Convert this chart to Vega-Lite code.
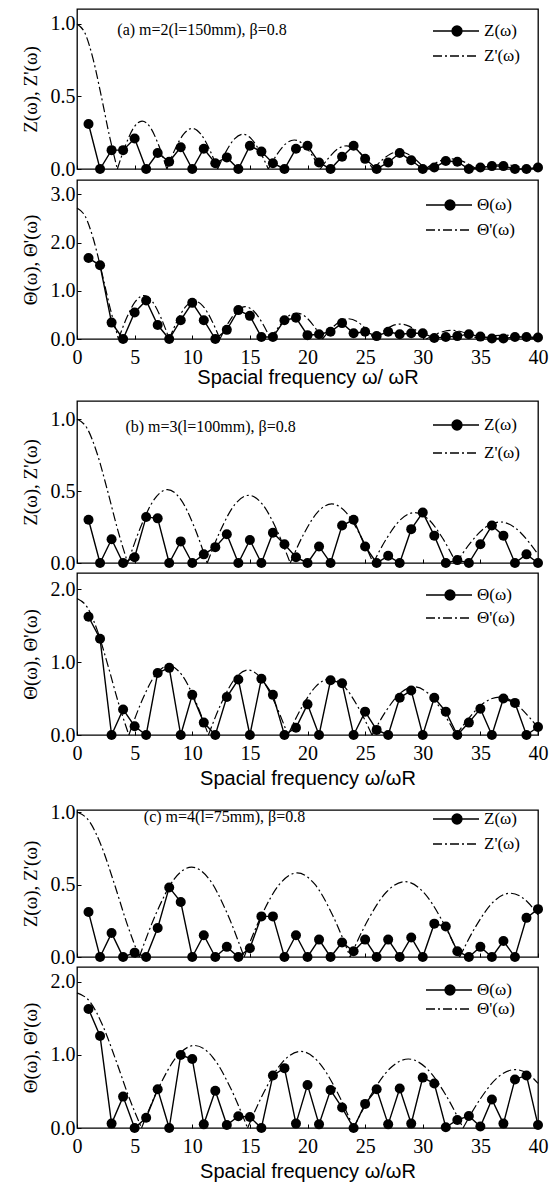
{
"$schema": "https://vega.github.io/schema/vega-lite/v6.json",
"padding": {"left": 20, "top": 8, "right": 5, "bottom": 0},
"background": "white",
"config": {
 "view": {"stroke": "black", "strokeWidth": 1.3},
 "axis": {"domain": false, "grid": false, "tickColor": "black", "tickSize": -4, "tickWidth": 1, "labelColor": "black", "labelFont": "Liberation Serif", "labelFontSize": 20, "labelFlush": false, "titleColor": "black", "titleFontWeight": "normal"},
 "axisX": {"labelPadding": 12, "titleFont": "Liberation Sans", "titleFontSize": 20, "titlePadding": 5},
 "axisY": {"labelPadding": 6, "titleFont": "Liberation Serif", "titleFontSize": 19, "titlePadding": 10},
 "legend": {"labelFont": "Liberation Serif", "labelFontSize": 17, "labelColor": "black", "symbolSize": 256, "symbolStrokeWidth": 1.3, "symbolStrokeColor": "black", "labelOffset": 34}
},
"datasets": {
 "aZm": [{"x":1,"y":0.31},{"x":2,"y":0},{"x":3,"y":0.13},{"x":4,"y":0.13},{"x":5,"y":0.21},{"x":6,"y":0},{"x":7,"y":0.11},{"x":8,"y":0.05},{"x":9,"y":0.15},{"x":10,"y":0},{"x":11,"y":0.14},{"x":12,"y":0.04},{"x":13,"y":0.08},{"x":14,"y":0},{"x":15,"y":0.16},{"x":16,"y":0.12},{"x":17,"y":0.04},{"x":18,"y":0},{"x":19,"y":0.14},{"x":20,"y":0.16},{"x":21,"y":0.045},{"x":22,"y":0},{"x":23,"y":0.085},{"x":24,"y":0.16},{"x":25,"y":0.07},{"x":26,"y":0},{"x":27,"y":0.045},{"x":28,"y":0.11},{"x":29,"y":0.06},{"x":30,"y":0},{"x":31,"y":0.01},{"x":32,"y":0.055},{"x":33,"y":0.05},{"x":34,"y":0},{"x":35,"y":0.01},{"x":36,"y":0.02},{"x":37,"y":0.02},{"x":38,"y":0},{"x":39,"y":0},{"x":40,"y":0.01}],
 "aZc": [{"x":0,"y":1,"g":0},{"x":0.7,"y":0.935,"g":0},{"x":1.4,"y":0.757,"g":0},{"x":2.1,"y":0.505,"g":0},{"x":2.8,"y":0.234,"g":0},{"x":3.5,"y":0,"g":0},
  {"x":3.5,"y":0,"g":1},{"x":4.22,"y":0.165,"g":1},{"x":4.93,"y":0.286,"g":1},{"x":5.65,"y":0.33,"g":1},{"x":6.37,"y":0.286,"g":1},{"x":7.08,"y":0.165,"g":1},{"x":7.8,"y":0,"g":1},
  {"x":7.8,"y":0,"g":2},{"x":8.53,"y":0.14,"g":2},{"x":9.27,"y":0.242,"g":2},{"x":10,"y":0.28,"g":2},{"x":10.73,"y":0.242,"g":2},{"x":11.47,"y":0.14,"g":2},{"x":12.2,"y":0,"g":2},
  {"x":12.2,"y":0,"g":3},{"x":12.93,"y":0.12,"g":3},{"x":13.67,"y":0.208,"g":3},{"x":14.4,"y":0.24,"g":3},{"x":15.13,"y":0.208,"g":3},{"x":15.87,"y":0.12,"g":3},{"x":16.6,"y":0,"g":3},
  {"x":16.6,"y":0,"g":4},{"x":17.35,"y":0.1,"g":4},{"x":18.1,"y":0.173,"g":4},{"x":18.85,"y":0.2,"g":4},{"x":19.6,"y":0.173,"g":4},{"x":20.35,"y":0.1,"g":4},{"x":21.1,"y":0,"g":4},
  {"x":21.1,"y":0,"g":5},{"x":21.87,"y":0.08,"g":5},{"x":22.63,"y":0.139,"g":5},{"x":23.4,"y":0.16,"g":5},{"x":24.17,"y":0.139,"g":5},{"x":24.93,"y":0.08,"g":5},{"x":25.7,"y":0,"g":5},
  {"x":25.7,"y":0,"g":6},{"x":26.45,"y":0.06,"g":6},{"x":27.2,"y":0.104,"g":6},{"x":27.95,"y":0.12,"g":6},{"x":28.7,"y":0.104,"g":6},{"x":29.45,"y":0.06,"g":6},{"x":30.2,"y":0,"g":6},
  {"x":30.2,"y":0,"g":7},{"x":30.95,"y":0.035,"g":7},{"x":31.7,"y":0.061,"g":7},{"x":32.45,"y":0.07,"g":7},{"x":33.2,"y":0.061,"g":7},{"x":33.95,"y":0.035,"g":7},{"x":34.7,"y":0,"g":7},
  {"x":34.7,"y":0,"g":8},{"x":35.45,"y":0.015,"g":8},{"x":36.2,"y":0.026,"g":8},{"x":36.95,"y":0.03,"g":8},{"x":37.7,"y":0.026,"g":8},{"x":38.45,"y":0.015,"g":8},{"x":39.2,"y":0,"g":8},
  {"x":39.2,"y":0,"g":9},{"x":40,"y":0.01,"g":9}],
 "aTm": [{"x":1,"y":1.68},{"x":2,"y":1.53},{"x":3,"y":0.34},{"x":4,"y":0},{"x":5,"y":0.55},{"x":6,"y":0.8},{"x":7,"y":0.29},{"x":8,"y":0},{"x":9,"y":0.39},{"x":10,"y":0.75},{"x":11,"y":0.39},{"x":12,"y":0},{"x":13,"y":0.19},{"x":14,"y":0.6},{"x":15,"y":0.48},{"x":16,"y":0.04},{"x":17,"y":0.04},{"x":18,"y":0.39},{"x":19,"y":0.44},{"x":20,"y":0.08},{"x":21,"y":0.1},{"x":22,"y":0.15},{"x":23,"y":0.33},{"x":24,"y":0.12},{"x":25,"y":0.15},{"x":26,"y":0.06},{"x":27,"y":0.15},{"x":28,"y":0.1},{"x":29,"y":0.12},{"x":30,"y":0.12},{"x":31,"y":0.02},{"x":32,"y":0.04},{"x":33,"y":0.06},{"x":34,"y":0.1},{"x":35,"y":0.05},{"x":36,"y":0.01},{"x":37,"y":0.01},{"x":38,"y":0.04},{"x":39,"y":0.04},{"x":40,"y":0.03}],
 "aTc": [{"x":0,"y":2.72,"g":0},{"x":0.72,"y":2.543,"g":0},{"x":1.44,"y":2.059,"g":0},{"x":2.16,"y":1.374,"g":0},{"x":2.88,"y":0.636,"g":0},{"x":3.6,"y":0,"g":0},
  {"x":3.6,"y":0,"g":1},{"x":4.33,"y":0.45,"g":1},{"x":5.07,"y":0.779,"g":1},{"x":5.8,"y":0.9,"g":1},{"x":6.53,"y":0.779,"g":1},{"x":7.27,"y":0.45,"g":1},{"x":8,"y":0,"g":1},
  {"x":8,"y":0,"g":2},{"x":8.73,"y":0.395,"g":2},{"x":9.47,"y":0.684,"g":2},{"x":10.2,"y":0.79,"g":2},{"x":10.93,"y":0.684,"g":2},{"x":11.67,"y":0.395,"g":2},{"x":12.4,"y":0,"g":2},
  {"x":12.4,"y":0,"g":3},{"x":13.13,"y":0.335,"g":3},{"x":13.87,"y":0.58,"g":3},{"x":14.6,"y":0.67,"g":3},{"x":15.33,"y":0.58,"g":3},{"x":16.07,"y":0.335,"g":3},{"x":16.8,"y":0,"g":3},
  {"x":16.8,"y":0,"g":4},{"x":17.55,"y":0.27,"g":4},{"x":18.3,"y":0.468,"g":4},{"x":19.05,"y":0.54,"g":4},{"x":19.8,"y":0.468,"g":4},{"x":20.55,"y":0.27,"g":4},{"x":21.3,"y":0,"g":4},
  {"x":21.3,"y":0,"g":5},{"x":22.05,"y":0.21,"g":5},{"x":22.8,"y":0.364,"g":5},{"x":23.55,"y":0.42,"g":5},{"x":24.3,"y":0.364,"g":5},{"x":25.05,"y":0.21,"g":5},{"x":25.8,"y":0,"g":5},
  {"x":25.8,"y":0,"g":6},{"x":26.55,"y":0.155,"g":6},{"x":27.3,"y":0.268,"g":6},{"x":28.05,"y":0.31,"g":6},{"x":28.8,"y":0.268,"g":6},{"x":29.55,"y":0.155,"g":6},{"x":30.3,"y":0,"g":6},
  {"x":30.3,"y":0,"g":7},{"x":31.05,"y":0.09,"g":7},{"x":31.8,"y":0.156,"g":7},{"x":32.55,"y":0.18,"g":7},{"x":33.3,"y":0.156,"g":7},{"x":34.05,"y":0.09,"g":7},{"x":34.8,"y":0,"g":7},
  {"x":34.8,"y":0,"g":8},{"x":35.55,"y":0.04,"g":8},{"x":36.3,"y":0.069,"g":8},{"x":37.05,"y":0.08,"g":8},{"x":37.8,"y":0.069,"g":8},{"x":38.55,"y":0.04,"g":8},{"x":39.3,"y":0,"g":8},
  {"x":39.3,"y":0,"g":9},{"x":40,"y":0.03,"g":9}],
 "bZm": [{"x":1,"y":0.3},{"x":2,"y":0},{"x":3,"y":0.165},{"x":4,"y":0},{"x":5,"y":0.04},{"x":6,"y":0.32},{"x":7,"y":0.31},{"x":8,"y":0},{"x":9,"y":0.15},{"x":10,"y":0},{"x":11,"y":0.06},{"x":12,"y":0.11},{"x":13,"y":0.2},{"x":14,"y":0},{"x":15,"y":0.16},{"x":16,"y":0},{"x":17,"y":0.21},{"x":18,"y":0.13},{"x":19,"y":0.04},{"x":20,"y":0},{"x":21,"y":0.115},{"x":22,"y":0},{"x":23,"y":0.26},{"x":24,"y":0.3},{"x":25,"y":0.115},{"x":26,"y":0},{"x":27,"y":0.05},{"x":28,"y":0},{"x":29,"y":0.235},{"x":30,"y":0.35},{"x":31,"y":0.19},{"x":32,"y":0},{"x":33,"y":0.02},{"x":34,"y":0},{"x":35,"y":0.13},{"x":36,"y":0.26},{"x":37,"y":0.19},{"x":38,"y":0},{"x":39,"y":0.06},{"x":40,"y":0}],
 "bZc": [{"x":0,"y":1,"g":0},{"x":0.88,"y":0.935,"g":0},{"x":1.76,"y":0.757,"g":0},{"x":2.64,"y":0.505,"g":0},{"x":3.52,"y":0.234,"g":0},{"x":4.4,"y":0,"g":0},
  {"x":4.4,"y":0,"g":1},{"x":5.55,"y":0.255,"g":1},{"x":6.7,"y":0.442,"g":1},{"x":7.85,"y":0.51,"g":1},{"x":9,"y":0.442,"g":1},{"x":10.15,"y":0.255,"g":1},{"x":11.3,"y":0,"g":1},
  {"x":11.3,"y":0,"g":2},{"x":12.5,"y":0.235,"g":2},{"x":13.7,"y":0.407,"g":2},{"x":14.9,"y":0.47,"g":2},{"x":16.1,"y":0.407,"g":2},{"x":17.3,"y":0.235,"g":2},{"x":18.5,"y":0,"g":2},
  {"x":18.5,"y":0,"g":3},{"x":19.7,"y":0.205,"g":3},{"x":20.9,"y":0.355,"g":3},{"x":22.1,"y":0.41,"g":3},{"x":23.3,"y":0.355,"g":3},{"x":24.5,"y":0.205,"g":3},{"x":25.7,"y":0,"g":3},
  {"x":25.7,"y":0,"g":4},{"x":26.9,"y":0.175,"g":4},{"x":28.1,"y":0.303,"g":4},{"x":29.3,"y":0.35,"g":4},{"x":30.5,"y":0.303,"g":4},{"x":31.7,"y":0.175,"g":4},{"x":32.9,"y":0,"g":4},
  {"x":32.9,"y":0,"g":5},{"x":34.17,"y":0.143,"g":5},{"x":35.43,"y":0.247,"g":5},{"x":36.7,"y":0.285,"g":5},{"x":37.97,"y":0.247,"g":5},{"x":39.23,"y":0.143,"g":5},{"x":40,"y":0.06,"g":5}],
 "bTm": [{"x":1,"y":1.62},{"x":2,"y":1.32},{"x":3,"y":0},{"x":4,"y":0.35},{"x":5,"y":0.12},{"x":6,"y":0},{"x":7,"y":0.85},{"x":8,"y":0.92},{"x":9,"y":0},{"x":10,"y":0.55},{"x":11,"y":0.17},{"x":12,"y":0},{"x":13,"y":0.52},{"x":14,"y":0.76},{"x":15,"y":0},{"x":16,"y":0.77},{"x":17,"y":0.55},{"x":18,"y":0},{"x":19,"y":0.1},{"x":20,"y":0.42},{"x":21,"y":0},{"x":22,"y":0.75},{"x":23,"y":0.71},{"x":24,"y":0},{"x":25,"y":0.32},{"x":26,"y":0.07},{"x":27,"y":0},{"x":28,"y":0.51},{"x":29,"y":0.61},{"x":30,"y":0},{"x":31,"y":0.51},{"x":32,"y":0.32},{"x":33,"y":0},{"x":34,"y":0.17},{"x":35,"y":0.36},{"x":36,"y":0},{"x":37,"y":0.5},{"x":38,"y":0.44},{"x":39,"y":0},{"x":40,"y":0.11}],
 "bTc": [{"x":0,"y":1.87,"g":0},{"x":0.9,"y":1.748,"g":0},{"x":1.8,"y":1.416,"g":0},{"x":2.7,"y":0.944,"g":0},{"x":3.6,"y":0.438,"g":0},{"x":4.5,"y":0,"g":0},
  {"x":4.5,"y":0,"g":1},{"x":5.65,"y":0.475,"g":1},{"x":6.8,"y":0.823,"g":1},{"x":7.95,"y":0.95,"g":1},{"x":9.1,"y":0.823,"g":1},{"x":10.25,"y":0.475,"g":1},{"x":11.4,"y":0,"g":1},
  {"x":11.4,"y":0,"g":2},{"x":12.55,"y":0.445,"g":2},{"x":13.7,"y":0.771,"g":2},{"x":14.85,"y":0.89,"g":2},{"x":16,"y":0.771,"g":2},{"x":17.15,"y":0.445,"g":2},{"x":18.3,"y":0,"g":2},
  {"x":18.3,"y":0,"g":3},{"x":19.52,"y":0.385,"g":3},{"x":20.73,"y":0.667,"g":3},{"x":21.95,"y":0.77,"g":3},{"x":23.17,"y":0.667,"g":3},{"x":24.38,"y":0.385,"g":3},{"x":25.6,"y":0,"g":3},
  {"x":25.6,"y":0,"g":4},{"x":26.82,"y":0.33,"g":4},{"x":28.03,"y":0.572,"g":4},{"x":29.25,"y":0.66,"g":4},{"x":30.47,"y":0.572,"g":4},{"x":31.68,"y":0.33,"g":4},{"x":32.9,"y":0,"g":4},
  {"x":32.9,"y":0,"g":5},{"x":34.15,"y":0.26,"g":5},{"x":35.4,"y":0.45,"g":5},{"x":36.65,"y":0.52,"g":5},{"x":37.9,"y":0.45,"g":5},{"x":39.15,"y":0.26,"g":5},{"x":40,"y":0.1,"g":5}],
 "cZm": [{"x":1,"y":0.31},{"x":2,"y":0},{"x":3,"y":0.165},{"x":4,"y":0},{"x":5,"y":0.03},{"x":6,"y":0},{"x":7,"y":0.2},{"x":8,"y":0.48},{"x":9,"y":0.38},{"x":10,"y":0},{"x":11,"y":0.15},{"x":12,"y":0},{"x":13,"y":0.07},{"x":14,"y":0},{"x":15,"y":0.06},{"x":16,"y":0.28},{"x":17,"y":0.28},{"x":18,"y":0},{"x":19,"y":0.15},{"x":20,"y":0},{"x":21,"y":0.12},{"x":22,"y":0},{"x":23,"y":0.1},{"x":24,"y":0.04},{"x":25,"y":0.12},{"x":26,"y":0},{"x":27,"y":0.12},{"x":28,"y":0},{"x":29,"y":0.135},{"x":30,"y":0},{"x":31,"y":0.23},{"x":32,"y":0.21},{"x":33,"y":0.04},{"x":34,"y":0},{"x":35,"y":0.07},{"x":36,"y":0},{"x":37,"y":0.11},{"x":38,"y":0},{"x":39,"y":0.27},{"x":40,"y":0.33}],
 "cZc": [{"x":0,"y":1,"g":0},{"x":1.08,"y":0.935,"g":0},{"x":2.16,"y":0.757,"g":0},{"x":3.24,"y":0.505,"g":0},{"x":4.32,"y":0.234,"g":0},{"x":5.4,"y":0,"g":0},
  {"x":5.4,"y":0,"g":1},{"x":6.92,"y":0.31,"g":1},{"x":8.43,"y":0.537,"g":1},{"x":9.95,"y":0.62,"g":1},{"x":11.47,"y":0.537,"g":1},{"x":12.98,"y":0.31,"g":1},{"x":14.5,"y":0,"g":1},
  {"x":14.5,"y":0,"g":2},{"x":16.03,"y":0.29,"g":2},{"x":17.57,"y":0.502,"g":2},{"x":19.1,"y":0.58,"g":2},{"x":20.63,"y":0.502,"g":2},{"x":22.17,"y":0.29,"g":2},{"x":23.7,"y":0,"g":2},
  {"x":23.7,"y":0,"g":3},{"x":25.28,"y":0.26,"g":3},{"x":26.87,"y":0.45,"g":3},{"x":28.45,"y":0.52,"g":3},{"x":30.03,"y":0.45,"g":3},{"x":31.62,"y":0.26,"g":3},{"x":33.2,"y":0,"g":3},
  {"x":33.2,"y":0,"g":4},{"x":34.67,"y":0.22,"g":4},{"x":36.13,"y":0.381,"g":4},{"x":37.6,"y":0.44,"g":4},{"x":39.07,"y":0.381,"g":4},{"x":40,"y":0.29,"g":4}],
 "cTm": [{"x":1,"y":1.63},{"x":2,"y":1.26},{"x":3,"y":0.06},{"x":4,"y":0.43},{"x":5,"y":0},{"x":6,"y":0.14},{"x":7,"y":0.53},{"x":8,"y":0},{"x":9,"y":1.0},{"x":10,"y":0.945},{"x":11,"y":0.05},{"x":12,"y":0.51},{"x":13,"y":0.04},{"x":14,"y":0.16},{"x":15,"y":0.15},{"x":16,"y":0},{"x":17,"y":0.72},{"x":18,"y":0.82},{"x":19,"y":0.06},{"x":20,"y":0.59},{"x":21,"y":0.05},{"x":22,"y":0.52},{"x":23,"y":0.28},{"x":24,"y":0},{"x":25,"y":0.33},{"x":26,"y":0.53},{"x":27,"y":0.05},{"x":28,"y":0.54},{"x":29,"y":0.06},{"x":30,"y":0.69},{"x":31,"y":0.61},{"x":32,"y":0.01},{"x":33,"y":0.11},{"x":34,"y":0.165},{"x":35,"y":0.02},{"x":36,"y":0.39},{"x":37,"y":0.06},{"x":38,"y":0.665},{"x":39,"y":0.72},{"x":40,"y":0.04}],
 "cTc": [{"x":0,"y":1.85,"g":0},{"x":1.12,"y":1.73,"g":0},{"x":2.24,"y":1.4,"g":0},{"x":3.36,"y":0.934,"g":0},{"x":4.48,"y":0.433,"g":0},{"x":5.6,"y":0,"g":0},
  {"x":5.6,"y":0,"g":1},{"x":7.13,"y":0.565,"g":1},{"x":8.67,"y":0.979,"g":1},{"x":10.2,"y":1.13,"g":1},{"x":11.73,"y":0.979,"g":1},{"x":13.27,"y":0.565,"g":1},{"x":14.8,"y":0,"g":1},
  {"x":14.8,"y":0,"g":2},{"x":16.33,"y":0.525,"g":2},{"x":17.87,"y":0.909,"g":2},{"x":19.4,"y":1.05,"g":2},{"x":20.93,"y":0.909,"g":2},{"x":22.47,"y":0.525,"g":2},{"x":24,"y":0,"g":2},
  {"x":24,"y":0,"g":3},{"x":25.58,"y":0.473,"g":3},{"x":27.17,"y":0.818,"g":3},{"x":28.75,"y":0.945,"g":3},{"x":30.33,"y":0.818,"g":3},{"x":31.92,"y":0.473,"g":3},{"x":33.5,"y":0,"g":3},
  {"x":33.5,"y":0,"g":4},{"x":35,"y":0.4,"g":4},{"x":36.5,"y":0.693,"g":4},{"x":38,"y":0.8,"g":4},{"x":39.5,"y":0.693,"g":4},{"x":40,"y":0.61,"g":4}]
},
"resolve": {"scale": {"x": "independent", "y": "independent", "fill": "independent", "strokeDash": "independent"}, "legend": {"fill": "independent", "strokeDash": "independent"}},
"spacing": 12,
"vconcat": [
 {"vconcat": [
  {"width": 461, "height": 160,
   "encoding": {"x": {"field": "x", "type": "quantitative", "scale": {"domain": [0, 40], "nice": false, "zero": false}, "axis": {"values": [0,5,10,15,20,25,30,35,40], "labels": false, "title": null}},
                "y": {"field": "y", "type": "quantitative", "scale": {"domain": [0, 1.103], "nice": false}, "axis": {"values": [0, 0.5, 1], "format": ".1f", "title": "Z(ω),  Z'(ω)"}}},
   "layer": [
    {"data": {"name": "aZm"}, "mark": {"type": "line", "color": "black", "strokeWidth": 1.4}},
    {"data": {"name": "aZm"}, "mark": {"type": "point", "filled": true, "color": "black", "size": 100, "opacity": 1},
     "encoding": {"fill": {"datum": "Z(ω)", "scale": {"range": ["black"]}, "legend": {"title": null, "orient": "none", "legendX": 355, "legendY": 13, "symbolType": "M-1,0H1.375M2.625,0H4.75M1.375,0A0.625,0.625,0,1,1,2.625,0A0.625,0.625,0,1,1,1.375,0"}}}},
    {"data": {"name": "aZc"}, "mark": {"type": "line", "color": "black", "strokeWidth": 1.2, "interpolate": "monotone"},
     "encoding": {"detail": {"field": "g"}, "strokeDash": {"datum": "Z'(ω)", "scale": {"range": [[9, 3, 2, 3]]}, "legend": {"title": null, "orient": "none", "legendX": 355, "legendY": 38, "symbolType": "M-1,0H4.75"}}}},
    {"data": {"values": [{"x": 3.5, "y": 0.955, "t": "(a) m=2(l=150mm), β=0.8"}]}, "mark": {"type": "text", "align": "left", "baseline": "middle", "font": "Liberation Serif", "fontSize": 16, "color": "black"},
     "encoding": {"text": {"field": "t"}}}
   ]},
  {"width": 461, "height": 159,
   "encoding": {"x": {"field": "x", "type": "quantitative", "scale": {"domain": [0, 40], "nice": false, "zero": false}, "axis": {"values": [0,5,10,15,20,25,30,35,40], "title": "Spacial frequency  ω/ ωR", "titlePadding": 0}},
                "y": {"field": "y", "type": "quantitative", "scale": {"domain": [0, 3.3], "nice": false}, "axis": {"values": [0, 1, 2, 3], "format": ".1f", "title": "Θ(ω),  Θ'(ω)"}}},
   "layer": [
    {"data": {"name": "aTm"}, "mark": {"type": "line", "color": "black", "strokeWidth": 1.4}},
    {"data": {"name": "aTm"}, "mark": {"type": "point", "filled": true, "color": "black", "size": 100, "opacity": 1},
     "encoding": {"fill": {"datum": "Θ(ω)", "scale": {"range": ["black"]}, "legend": {"title": null, "orient": "none", "legendX": 348, "legendY": 16, "symbolType": "M-1,0H1.375M2.625,0H4.75M1.375,0A0.625,0.625,0,1,1,2.625,0A0.625,0.625,0,1,1,1.375,0"}}}},
    {"data": {"name": "aTc"}, "mark": {"type": "line", "color": "black", "strokeWidth": 1.2, "interpolate": "monotone"},
     "encoding": {"detail": {"field": "g"}, "strokeDash": {"datum": "Θ'(ω)", "scale": {"range": [[9, 3, 2, 3]]}, "legend": {"title": null, "orient": "none", "legendX": 348, "legendY": 41, "symbolType": "M-1,0H4.75"}}}}
   ]}
 ], "spacing": 11, "bounds": "flush",
 "resolve": {"scale": {"x": "independent", "y": "independent", "fill": "independent", "strokeDash": "independent"}, "legend": {"fill": "independent", "strokeDash": "independent"}}},
 {"vconcat": [
 {"vconcat": [
  {"width": 461, "height": 162,
   "encoding": {"x": {"field": "x", "type": "quantitative", "scale": {"domain": [0, 40], "nice": false, "zero": false}, "axis": {"values": [0,5,10,15,20,25,30,35,40], "labels": false, "title": null}},
                "y": {"field": "y", "type": "quantitative", "scale": {"domain": [0, 1.125], "nice": false}, "axis": {"values": [0, 0.5, 1], "format": ".1f", "title": "Z(ω),  Z'(ω)"}}},
   "layer": [
    {"data": {"name": "bZm"}, "mark": {"type": "line", "color": "black", "strokeWidth": 1.4}},
    {"data": {"name": "bZm"}, "mark": {"type": "point", "filled": true, "color": "black", "size": 100, "opacity": 1},
     "encoding": {"fill": {"datum": "Z(ω)", "scale": {"range": ["black"]}, "legend": {"title": null, "orient": "none", "legendX": 355, "legendY": 15, "symbolType": "M-1,0H1.375M2.625,0H4.75M1.375,0A0.625,0.625,0,1,1,2.625,0A0.625,0.625,0,1,1,1.375,0"}}}},
    {"data": {"name": "bZc"}, "mark": {"type": "line", "color": "black", "strokeWidth": 1.2, "interpolate": "monotone"},
     "encoding": {"detail": {"field": "g"}, "strokeDash": {"datum": "Z'(ω)", "scale": {"range": [[9, 3, 2, 3]]}, "legend": {"title": null, "orient": "none", "legendX": 355, "legendY": 43, "symbolType": "M-1,0H4.75"}}}},
    {"data": {"values": [{"x": 4.2, "y": 0.944, "t": "(b) m=3(l=100mm), β=0.8"}]}, "mark": {"type": "text", "align": "left", "baseline": "middle", "font": "Liberation Serif", "fontSize": 16, "color": "black"},
     "encoding": {"text": {"field": "t"}}}
   ]},
  {"width": 461, "height": 162,
   "encoding": {"x": {"field": "x", "type": "quantitative", "scale": {"domain": [0, 40], "nice": false, "zero": false}, "axis": {"values": [0,5,10,15,20,25,30,35,40], "title": "Spacial frequency  ω/ωR"}},
                "y": {"field": "y", "type": "quantitative", "scale": {"domain": [0, 2.22], "nice": false}, "axis": {"values": [0, 1, 2], "format": ".1f", "title": "Θ(ω),  Θ'(ω)"}}},
   "layer": [
    {"data": {"name": "bTm"}, "mark": {"type": "line", "color": "black", "strokeWidth": 1.4}},
    {"data": {"name": "bTm"}, "mark": {"type": "point", "filled": true, "color": "black", "size": 100, "opacity": 1},
     "encoding": {"fill": {"datum": "Θ(ω)", "scale": {"range": ["black"]}, "legend": {"title": null, "orient": "none", "legendX": 348, "legendY": 13, "symbolType": "M-1,0H1.375M2.625,0H4.75M1.375,0A0.625,0.625,0,1,1,2.625,0A0.625,0.625,0,1,1,1.375,0"}}}},
    {"data": {"name": "bTc"}, "mark": {"type": "line", "color": "black", "strokeWidth": 1.2, "interpolate": "monotone"},
     "encoding": {"detail": {"field": "g"}, "strokeDash": {"datum": "Θ'(ω)", "scale": {"range": [[9, 3, 2, 3]]}, "legend": {"title": null, "orient": "none", "legendX": 348, "legendY": 36, "symbolType": "M-1,0H4.75"}}}}
   ]}
 ], "spacing": 10, "bounds": "flush",
 "resolve": {"scale": {"x": "independent", "y": "independent", "fill": "independent", "strokeDash": "independent"}, "legend": {"fill": "independent", "strokeDash": "independent"}}},
 {"vconcat": [
  {"width": 461, "height": 147,
   "encoding": {"x": {"field": "x", "type": "quantitative", "scale": {"domain": [0, 40], "nice": false, "zero": false}, "axis": {"values": [0,5,10,15,20,25,30,35,40], "labels": false, "title": null}},
                "y": {"field": "y", "type": "quantitative", "scale": {"domain": [0, 1.014], "nice": false}, "axis": {"values": [0, 0.5, 1], "format": ".1f", "title": "Z(ω),  Z'(ω)"}}},
   "layer": [
    {"data": {"name": "cZm"}, "mark": {"type": "line", "color": "black", "strokeWidth": 1.4}},
    {"data": {"name": "cZm"}, "mark": {"type": "point", "filled": true, "color": "black", "size": 100, "opacity": 1},
     "encoding": {"fill": {"datum": "Z(ω)", "scale": {"range": ["black"]}, "legend": {"title": null, "orient": "none", "legendX": 355, "legendY": 0, "symbolType": "M-1,0H1.375M2.625,0H4.75M1.375,0A0.625,0.625,0,1,1,2.625,0A0.625,0.625,0,1,1,1.375,0"}}}},
    {"data": {"name": "cZc"}, "mark": {"type": "line", "color": "black", "strokeWidth": 1.2, "interpolate": "monotone"},
     "encoding": {"detail": {"field": "g"}, "strokeDash": {"datum": "Z'(ω)", "scale": {"range": [[9, 3, 2, 3]]}, "legend": {"title": null, "orient": "none", "legendX": 355, "legendY": 25, "symbolType": "M-1,0H4.75"}}}},
    {"data": {"values": [{"x": 5.8, "y": 0.966, "t": "(c) m=4(l=75mm), β=0.8"}]}, "mark": {"type": "text", "align": "left", "baseline": "middle", "font": "Liberation Serif", "fontSize": 16, "color": "black"},
     "encoding": {"text": {"field": "t"}}}
   ]},
  {"width": 461, "height": 161,
   "encoding": {"x": {"field": "x", "type": "quantitative", "scale": {"domain": [0, 40], "nice": false, "zero": false}, "axis": {"values": [0,5,10,15,20,25,30,35,40], "title": "Spacial frequency  ω/ωR"}},
                "y": {"field": "y", "type": "quantitative", "scale": {"domain": [0, 2.205], "nice": false}, "axis": {"values": [0, 1, 2], "format": ".1f", "title": "Θ(ω),  Θ'(ω)"}}},
   "layer": [
    {"data": {"name": "cTm"}, "mark": {"type": "line", "color": "black", "strokeWidth": 1.4}},
    {"data": {"name": "cTm"}, "mark": {"type": "point", "filled": true, "color": "black", "size": 100, "opacity": 1},
     "encoding": {"fill": {"datum": "Θ(ω)", "scale": {"range": ["black"]}, "legend": {"title": null, "orient": "none", "legendX": 348, "legendY": 14, "symbolType": "M-1,0H1.375M2.625,0H4.75M1.375,0A0.625,0.625,0,1,1,2.625,0A0.625,0.625,0,1,1,1.375,0"}}}},
    {"data": {"name": "cTc"}, "mark": {"type": "line", "color": "black", "strokeWidth": 1.2, "interpolate": "monotone"},
     "encoding": {"detail": {"field": "g"}, "strokeDash": {"datum": "Θ'(ω)", "scale": {"range": [[9, 3, 2, 3]]}, "legend": {"title": null, "orient": "none", "legendX": 348, "legendY": 33, "symbolType": "M-1,0H4.75"}}}}
   ]}
 ], "spacing": 10, "bounds": "flush",
 "resolve": {"scale": {"x": "independent", "y": "independent", "fill": "independent", "strokeDash": "independent"}, "legend": {"fill": "independent", "strokeDash": "independent"}}}
 ], "spacing": 12,
 "resolve": {"scale": {"x": "independent", "y": "independent", "fill": "independent", "strokeDash": "independent"}, "legend": {"fill": "independent", "strokeDash": "independent"}}}
]
}
